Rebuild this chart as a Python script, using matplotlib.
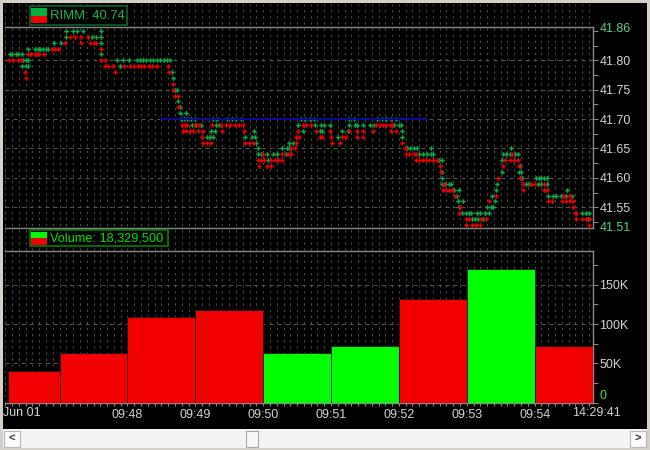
import matplotlib
matplotlib.use("Agg")
import matplotlib.pyplot as plt
from matplotlib.patches import Rectangle
from matplotlib.ticker import MultipleLocator, FixedLocator, FuncFormatter

plt.rcParams['font.family'] = ['Liberation Sans', 'DejaVu Sans']

# === Data: trades (seconds after 09:46:00) grouped by price ===
green_ticks = [
    (41.85, [66, 72, 75, 81, 97]),
    (41.84, [66, 89, 92, 97]),
    (41.83, [55, 61, 97]),
    (41.82, [32, 38, 41, 43, 45, 48, 50]),
    (41.81, [16, 18, 21, 23, 27, 97]),
    (41.80, [28, 30, 32, 111, 116, 121, 128, 131, 134, 136, 140, 143, 146, 149, 152, 155, 158]),
    (41.79, [27, 30, 32, 113]),
    (41.78, [159]),
    (41.77, [160]),
    (41.75, [162, 164]),
    (41.73, [165]),
    (41.72, [166]),
    (41.71, [166, 172]),
    (41.70, [167, 170, 173, 176, 180, 196, 199, 208, 212, 216, 220, 273, 277, 281, 285,
             316, 320, 341, 345, 349, 353, 357]),
    (41.69, [177, 181, 185, 198, 201, 271, 286, 291, 294, 299, 316, 321, 323, 328, 334,
             338, 356, 360, 362]),
    (41.68, [194, 197, 232, 275, 290, 292, 310, 315, 363]),
    (41.67, [190, 193, 196, 224, 230, 233, 306, 363]),
    (41.66, [234, 263, 266]),
    (41.65, [235, 257, 261, 263, 367, 370, 373, 376, 388, 459]),
    (41.64, [235, 238, 243, 249, 252, 260, 378, 381, 385, 388, 390, 452, 455, 458, 463, 465]),
    (41.63, [244, 395, 398, 451]),
    (41.62, [467]),
    (41.61, [398, 451, 466, 468]),
    (41.60, [398, 469, 481, 484, 486, 488, 491]),
    (41.59, [398, 401, 404, 406, 447, 472, 475, 483, 486, 491]),
    (41.58, [409, 413, 446, 509]),
    (41.57, [411, 442, 492, 496, 499, 503, 508, 513]),
    (41.56, [412, 417, 445]),
    (41.55, [413, 438, 441, 443]),
    (41.54, [416, 419, 422, 424, 429, 432, 436, 440, 522, 525, 528]),
    (41.53, [425, 427, 430, 434, 527]),
]
red_ticks = [
    (41.84, [69, 74, 79, 85]),
    (41.83, [65, 79, 87, 90, 92]),
    (41.82, [53, 56, 59, 97]),
    (41.81, [32, 35, 38, 40, 42, 46]),
    (41.80, [15, 19, 23, 26, 97, 100]),
    (41.79, [100, 103, 107, 117, 122, 126, 129, 132, 135, 139, 142, 146, 156]),
    (41.78, [29, 109, 157]),
    (41.77, [30]),
    (41.76, [160]),
    (41.75, [160]),
    (41.74, [162, 165]),
    (41.72, [165]),
    (41.69, [168, 171, 173, 180, 183, 195, 203, 207, 211, 215, 219, 222, 275, 278, 282,
             340, 343, 346, 349, 352, 354]),
    (41.68, [169, 172, 175, 178, 182, 187, 204, 223, 271, 287, 299, 316, 323, 328, 337,
             353, 357]),
    (41.67, [186, 269, 272, 290, 292, 300, 310, 313, 323, 328]),
    (41.66, [187, 190, 194, 224, 227, 231, 269, 301, 308, 363]),
    (41.65, [265, 268, 365]),
    (41.64, [240, 257, 262, 265, 366, 369, 373, 375, 460]),
    (41.63, [235, 238, 241, 247, 250, 253, 257, 375, 378, 381, 384, 387, 390, 394,
             454, 458, 462, 465]),
    (41.62, [236, 243, 247, 396, 452, 466]),
    (41.61, [397]),
    (41.60, [448, 467]),
    (41.59, [400, 470, 477, 480, 488]),
    (41.58, [399, 402, 404, 407, 470, 488, 491]),
    (41.57, [410, 446, 506, 511]),
    (41.56, [440, 492, 495, 504, 508, 511, 514]),
    (41.55, [414, 514]),
    (41.54, [413, 516, 517]),
    (41.53, [419, 422, 433, 437, 517, 522, 525, 529]),
    (41.52, [419, 425, 428, 432, 528]),
]

# reference level line
ref_price = 41.70
ref_from, ref_to = 150, 385

# === Data: volume per minute ===
vol_from = [14, 60, 120, 180, 240, 300, 360, 420, 480]
vol_to = [60, 120, 180, 240, 300, 360, 420, 480, 532]
vol_values = [40000, 63000, 109000, 118000, 63000, 72000, 132000, 170000, 72000]
vol_up = [0, 0, 0, 0, 1, 1, 0, 1, 0]

time_ticks = [120, 180, 240, 300, 360, 420, 480]
time_labels = ['09:48', '09:49', '09:50', '09:51', '09:52', '09:53', '09:54']
first_label, last_label = 'Jun 01', '14:29:41'

price_ticks = [41.55, 41.60, 41.65, 41.70, 41.75, 41.80]
symbol, last_price = 'RIMM', 40.74
total_volume = 18329500
price_hi, price_lo = 41.86, 41.51

# === Layout (pixels) ===
W, H = 650, 450
XLIM = (11.7, 531.6)
LABEL = '#d4d4d4'
AXIS = '#8a8a8a'
GREEN = '#10a848'
RED = '#f00000'


def box(x0, y0, x1, y1):
    return [x0 / W, 1 - y1 / H, (x1 - x0) / W, (y1 - y0) / H]


fig = plt.figure(figsize=(6.5, 4.5), dpi=100, facecolor='#d4d0c8')

# window background + scrollbar
ui = fig.add_axes([0, 0, 1, 1], zorder=-5)
ui.set_xlim(0, W)
ui.set_ylim(H, 0)
ui.axis('off')
ui.add_patch(Rectangle((3, 3), 644, 426, color='black', lw=0))
ui.add_patch(Rectangle((3, 429), 644, 19, color='#f3f3f1', lw=0))
for bx, glyph in [(4, '<'), (630, '>')]:
    ui.add_patch(Rectangle((bx, 430.5), 16, 16, facecolor='#fbfbfb', edgecolor='#b8b8b8', lw=0.8))
    ui.text(bx + 8, 438.5, glyph, ha='center', va='center', fontsize=8,
            fontweight='bold', color='#303030')
ui.add_patch(Rectangle((246, 430.5), 12, 16, facecolor='#f8f8f8', edgecolor='#a8a8a8', lw=0.8))

# dotted vertical grid over the whole chart area
bg = fig.add_axes(box(5, 4, 593, 402.5), zorder=-4)
bg.set_facecolor('none')
bg.set_xlim(*XLIM)
bg.xaxis.set_major_locator(MultipleLocator(6))
bg.grid(axis='x', color='#4a4a4a', lw=0.8, linestyle=(0, (2, 3.5)))
bg.tick_params(length=0, labelbottom=False, labelleft=False)
bg.set_yticks([])
for s in bg.spines.values():
    s.set_visible(False)


def style_axes(ax):
    ax.set_facecolor('none')
    ax.set_xlim(*XLIM)
    ax.spines['left'].set_visible(False)
    for side in ['top', 'bottom', 'right']:
        ax.spines[side].set_color(AXIS)
        ax.spines[side].set_linewidth(1)
    ax.yaxis.tick_right()
    ax.tick_params(axis='y', which='both', length=3.6, width=0.8, color=AXIS,
                   labelcolor=LABEL, labelsize=9, pad=1)
    ax.grid(axis='y', which='major', color='#555555', lw=0.72, linestyle=(0, (4, 4)))


# === Price panel ===
ax_p = fig.add_axes(box(5, 27, 593, 228.3))
style_axes(ax_p)
ax_p.set_ylim(41.5143, 41.8566)
ax_p.yaxis.set_major_locator(FixedLocator(price_ticks))
ax_p.yaxis.set_minor_locator(MultipleLocator(0.025))
ax_p.yaxis.set_major_formatter(FuncFormatter(lambda v, p: f'{v:.2f}'))
ax_p.tick_params(axis='x', which='both', bottom=False, labelbottom=False)

for rows, col in [(green_ticks, GREEN), (red_ticks, RED)]:
    xs, ys = [], []
    for price, secs in rows:
        xs += secs
        ys += [price] * len(secs)
    ax_p.plot(xs, ys, linestyle='none', marker='P', ms=3.3, mew=0, color=col, zorder=3)

ax_p.plot([ref_from, ref_to], [ref_price, ref_price], color='#0a0a9a', lw=1.5, zorder=4)

ax_p.annotate(f'{price_hi:.2f}', xy=(1, 1), xycoords='axes fraction', xytext=(4.5, -1.6),
              textcoords='offset points', ha='left', va='center', fontsize=9, color='#5ccf86')
ax_p.annotate(f'{price_lo:.2f}', xy=(1, 0), xycoords='axes fraction', xytext=(4.5, 0),
              textcoords='offset points', ha='left', va='center', fontsize=9, color='#5ccf86')

# === Volume panel ===
ax_v = fig.add_axes(box(5, 251, 593, 402.5))
style_axes(ax_v)
ax_v.set_ylim(0, 193000)
ax_v.yaxis.set_major_locator(MultipleLocator(50000))
ax_v.yaxis.set_minor_locator(MultipleLocator(25000))
ax_v.yaxis.set_major_formatter(FuncFormatter(lambda v, p: '' if v == 0 else f'{v / 1000:.0f}K'))
widths = [b - a for a, b in zip(vol_from, vol_to)]
colors = ['#00ff00' if u else RED for u in vol_up]
ax_v.bar(vol_from, vol_values, width=widths, align='edge', color=colors,
         edgecolor='#1a1a1a', linewidth=0.6, zorder=3)
ax_v.annotate('0', xy=(1, 0), xycoords='axes fraction', xytext=(4.5, 5),
              textcoords='offset points', ha='left', va='center', fontsize=9, color='#40d860')

ax_v.set_xticks(time_ticks, time_labels)
ax_v.xaxis.set_minor_locator(MultipleLocator(6))
ax_v.tick_params(axis='x', which='both', length=2.4, width=0.8, color=AXIS,
                 labelcolor=LABEL, labelsize=9, pad=2)
ax_v.text((22 - 5) / 588, -0.072, first_label, transform=ax_v.transAxes,
          ha='center', va='center', fontsize=9, color=LABEL)
ax_v.text((596 - 5) / 588, -0.072, last_label, transform=ax_v.transAxes,
          ha='center', va='center', fontsize=9, color=LABEL)

# === Legend boxes ===
top = fig.add_axes([0, 0, 1, 1], zorder=10)
top.set_xlim(0, W)
top.set_ylim(H, 0)
top.axis('off')
top.add_patch(Rectangle((29.5, 6), 97.5, 19, facecolor='black', edgecolor='#0b6a28', lw=1.1))
top.add_patch(Rectangle((31, 8), 15.5, 7.5, color='#00b040', lw=0))
top.add_patch(Rectangle((31, 15.5), 15.5, 7.8, color=RED, lw=0))
top.text(50, 16, f'{symbol}: {last_price:.2f}', ha='left', va='center', fontsize=9.4,
         color='#1cb848')

top.add_patch(Rectangle((29.5, 230), 138.5, 16, facecolor='black', edgecolor='#008a00', lw=1.1))
top.add_patch(Rectangle((31, 231.5), 15.5, 6.8, color='#00ff00', lw=0))
top.add_patch(Rectangle((31, 238.3), 15.5, 6.8, color=RED, lw=0))
top.text(50, 238.5, f'Volume: {total_volume:,}', ha='left', va='center', fontsize=9.2,
         color='#00e400')

fig.savefig('out.png', dpi=100, facecolor=fig.get_facecolor())
